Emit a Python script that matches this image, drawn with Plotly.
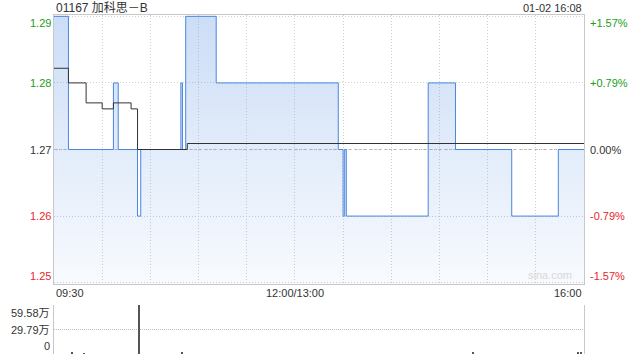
import plotly.graph_objects as go

# ---------------- data ----------------
title_text = "01167 加科思－B"
stamp_text = "01-02 16:08"
prev_close = 1.27

price_times = ["09:30", "09:39", "10:07", "10:10", "10:22", "10:24", "10:49", "10:50",
               "10:52", "11:11", "13:27", "13:30", "13:31", "13:32", "14:23", "14:40",
               "15:15", "15:44", "16:00"]
price_vals = [1.29, 1.27, 1.28, 1.27, 1.26, 1.27, 1.28, 1.27,
              1.29, 1.28, 1.27, 1.26, 1.27, 1.26, 1.28, 1.27,
              1.26, 1.27, 1.27]

avg_times = ["09:30", "09:39", "09:50", "10:00", "10:07", "10:18", "10:22", "10:53", "16:00"]
avg_vals = [1.2822, 1.2800, 1.2770, 1.2761, 1.2770, 1.2761, 1.2700, 1.2709, 1.2709]

vol_times = ["09:41", "09:49", "10:23", "10:50", "14:51", "15:56", "15:58"]
vol_vals = [1.5, 1.2, 59.58, 1.8, 2.0, 1.5, 2.5]   # 万

price_ticks = [1.29, 1.28, 1.27, 1.26, 1.25]
price_tick_text = ["1.29", "1.28", "1.27", "1.26", "1.25"]
pct_tick_text = ["+1.57%", "+0.79%", "0.00%", "-0.79%", "-1.57%"]
tick_colors = ["#1a9e1a", "#1a9e1a", "#333333", "#e8262a", "#e8262a"]

vol_ticks = [59.58, 29.79, 0]
vol_tick_text = ["59.58万", "29.79万", "0"]

time_labels = ["09:30", "12:00/13:00", "16:00"]
time_label_pos = ["09:30", "12:00", "16:00"]


def idx(t):
    h, m = map(int, t.split(":"))
    mins = h * 60 + m
    if mins <= 12 * 60:
        return mins - (9 * 60 + 30)
    return mins - 13 * 60 + 150


FONT = "Liberation Sans, Arial, Noto Sans CJK SC, sans-serif"
GRID = "#d0d0d0"
BORDER = "#c8c8c8"

fig = go.Figure()

fig.add_trace(go.Scatter(
    x=[idx(t) for t in price_times], y=price_vals,
    mode="lines", line=dict(color="#4a86e0", width=1, shape="hv"),
    fill="tozeroy",
    fillgradient=dict(type="vertical", start=1.25, stop=1.29,
                      colorscale=[[0, "rgba(74,134,224,0.04)"], [1, "rgba(74,134,224,0.28)"]]),
    xaxis="x", yaxis="y", hoverinfo="skip", showlegend=False))

fig.add_trace(go.Scatter(
    x=[idx(t) for t in avg_times], y=avg_vals,
    mode="lines", line=dict(color="#333333", width=1, shape="hv"),
    xaxis="x", yaxis="y", hoverinfo="skip", showlegend=False))

fig.add_trace(go.Bar(
    x=[idx(t) for t in vol_times], y=vol_vals, width=0.7,
    marker=dict(color="#555555", line=dict(width=0)),
    xaxis="x2", yaxis="y2", hoverinfo="skip", showlegend=False))

X0, X1 = 54 / 640, 584 / 640
fig.update_layout(
    width=640, height=360, margin=dict(l=0, r=0, t=0, b=0),
    paper_bgcolor="white", plot_bgcolor="white",
    font=dict(family=FONT, size=11, color="#333"),
    xaxis=dict(domain=[X0, X1], range=[0, 330], tickvals=list(range(30, 330, 30)),
               showticklabels=False, ticks="", showgrid=True, gridcolor=GRID, griddash="1px,2px",
               showline=True, linecolor=BORDER, mirror=True, zeroline=False, anchor="y"),
    yaxis=dict(domain=[1 - 284 / 360, 1 - 15 / 360], range=[1.2498, 1.2902],
               tickvals=price_ticks, showticklabels=False, ticks="",
               showgrid=True, gridcolor=GRID, griddash="1px,2px",
               showline=True, linecolor=BORDER, mirror=True, zeroline=False, anchor="x"),
    xaxis2=dict(domain=[X0, X1], range=[0, 330], showticklabels=False, ticks="",
                showgrid=False, showline=False, zeroline=False, anchor="y2"),
    yaxis2=dict(domain=[1 - 354 / 360, 1 - 305 / 360], range=[0, 59.58],
                tickvals=vol_ticks, showticklabels=False, ticks="",
                showgrid=True, gridcolor="#bdbdbd", griddash="1px,1px",
                showline=True, linecolor=BORDER, mirror=True, zeroline=False, anchor="x2"),
    bargap=0,
)

# previous close dashed line
fig.add_shape(type="line", xref="x", yref="y", x0=0, x1=330, y0=prev_close, y1=prev_close,
              line=dict(color="#b5b5b5", width=1, dash="3px,2px"), layer="below")

ann = []
n = len(price_ticks)
for i, (v, t, p, c) in enumerate(zip(price_ticks, price_tick_text, pct_tick_text, tick_colors)):
    if i == 0:
        ya, ys = "top", 1
    elif i == n - 1:
        ya, ys = "bottom", -1
    else:
        ya, ys = "middle", 0
    ann.append(dict(x=X0, xref="paper", y=v, yref="y", text=t, showarrow=False,
                    xanchor="right", yanchor=ya, yshift=ys, xshift=-1,
                    font=dict(color=c, size=11, family=FONT)))
    ann.append(dict(x=X1, xref="paper", y=v, yref="y", text=p, showarrow=False,
                    xanchor="left", yanchor=ya, yshift=ys, xshift=4,
                    font=dict(color=c, size=11, family=FONT)))

for i, (v, t) in enumerate(zip(vol_ticks, vol_tick_text)):
    ya = "top" if i == 0 else ("bottom" if i == len(vol_ticks) - 1 else "middle")
    ann.append(dict(x=X0, xref="paper", y=v, yref="y2", text=t, showarrow=False,
                    xanchor="right", yanchor=ya, xshift=-2,
                    font=dict(color="#333", size=11, family=FONT)))

anchors = ["left", "center", "right"]
for lab, pos, a in zip(time_labels, time_label_pos, anchors):
    ann.append(dict(x=idx(pos), xref="x", y=1 - 293 / 360, yref="paper", text=lab,
                    showarrow=False, xanchor=a, yanchor="middle",
                    font=dict(color="#333", size=11, family=FONT)))

ann.append(dict(x=X0, xref="paper", y=1 - 8 / 360, yref="paper", text=title_text,
                showarrow=False, xanchor="left", yanchor="middle",
                font=dict(color="#333", size=12, family=FONT)))
ann.append(dict(x=X1, xref="paper", y=1 - 8 / 360, yref="paper", text=stamp_text,
                showarrow=False, xanchor="right", yanchor="middle",
                font=dict(color="#333", size=11, family=FONT)))
ann.append(dict(x=X1, xref="paper", y=1 - 275 / 360, yref="paper", text="sina.com",
                showarrow=False, xanchor="right", yanchor="middle", xshift=-10,
                font=dict(color="#d8d8d8", size=11, family=FONT)))

fig.update_layout(annotations=ann)
fig.write_html("out.html")
